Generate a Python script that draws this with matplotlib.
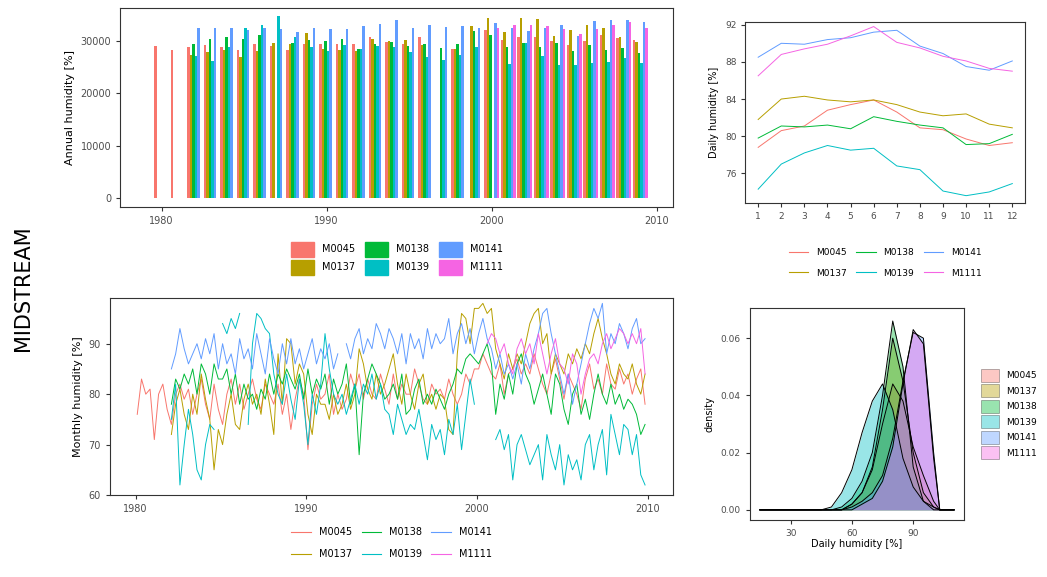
import numpy as np
import matplotlib.pyplot as plt
from matplotlib.patches import Patch
from matplotlib.lines import Line2D

nan = np.nan
stations = ["M0045", "M0137", "M0138", "M0139", "M0141", "M1111"]
colors = ["#F8766D", "#B79F00", "#00BA38", "#00BFC4", "#619CFF", "#F564E3"]

# ---- annual sums (per year, station order as above)
years = list(range(1980, 2010))
annual = [
    [29000, nan, nan, nan, nan, nan],
    [28300, nan, nan, nan, nan, nan],
    [28800, 27200, 29400, 27000, 32400, nan],
    [29100, 27900, 30400, 26200, 32400, nan],
    [28800, 28200, 30600, 28800, 32400, nan],
    [28200, 26900, 30300, 32500, 32100, nan],
    [29400, 28000, 31000, 33000, 32400, nan],
    [29000, 29600, nan, 34600, 32300, nan],
    [28300, 29400, 29600, 30600, 31700, nan],
    [29300, 31500, 30200, 28700, 32400, nan],
    [29300, 28500, 29900, 28100, 32300, nan],
    [29300, 28300, 30400, 29100, 32300, nan],
    [29400, 28000, 28400, 28400, 32800, nan],
    [30600, 30400, 29300, 28900, 33200, nan],
    [29800, 30000, 29800, 28800, 33900, nan],
    [29400, 30200, 29000, 27900, 32400, nan],
    [30600, 29200, 29400, 26900, 33000, nan],
    [nan, nan, 28600, 26400, 32600, nan],
    [28400, 28400, 29400, 27300, 32800, nan],
    [nan, 32800, 31800, 28700, 32400, nan],
    [32100, 34400, 31000, nan, 33300, 32400],
    [30200, 31700, 28800, 25600, 32400, 33000],
    [30700, 34300, 29600, 29600, 31800, 32900],
    [30700, 34100, 28800, 27000, 32500, 32700],
    [29900, 30900, 29600, 25300, 33000, 32300],
    [29200, 32100, 28000, 25300, 30900, 31200],
    [29900, 33000, 29100, 25800, 33800, 32300],
    [31000, 32500, 28300, 26000, 34000, 32900],
    [30500, 30700, 28600, 26700, 34000, 33600],
    [30200, 29800, 27700, 25700, 33500, 32500],
]

# ---- monthly series, 4 readings per year from 1980
monthly = {
    "M0045": [76, 83, 80, 81, 71, 80, 82, 77, 74, 80, 82, 79, 81, 76, 80, 83, 78, 75, 82, 77,
              74, 80, 83, 78, 82, 77, 80, 83, 79, 77, 82, 80, 78, 82, 76, 80, 73, 79, 83, 80,
              69, 78, 82, 79, 80, 84, 76, 80, 77, 79, 84, 81, 84, 79, 83, 80, 79, 84, 81, 78,
              84, 79, 82, 80, 80, 85, 82, 79, 78, 82, 80, 81, 79, 83, 80, 78, 80, 84, 82, 85,
              85, 88, 86, 84, 83, 86, 80, 84, 85, 87, 84, 86, 84, 88, 85, 82, 80, 84, 87, 83,
              79, 84, 82, 80, 77, 83, 86, 81, 83, 80, 86, 82, 81, 85, 82, 84, 80, 83, 85, 78],
    "M0137": [nan] * 8 +
             [72, 78, 81, 76, 73, 80, 76, 84, 79, 75, 65, 73, 70, 76, 80, 74, 73, 79, 82, 78,
              80, 76, 83, 78, 72, 88, 78, 91, 90, 82, 86, 84, 76, 72, 80, 78, 78, 75, 80, 76,
              78, 82, 77, 80, 89, 86, 81, 79, 84, 80, 82, 85, 88, 82, 78, 84, 80, 77, 82, 84,
              78, 80, 77, 80, 79, 73, 72, 88, 96, 95, 90, 97, 97, 98, 96, 97, 89, 86, 83, 88,
              85, 88, 86, 90, 94, 96, 97, 90, 92, 84, 88, 86, 84, 88, 86, 89, 87, 90, 88, 92,
              95, 91, 88, 84, 82, 86, 84, 83, 86, 82, 80, 84],
    "M0138": [nan] * 8 +
             [78, 83, 81, 84, 82, 85, 80, 86, 84, 80, 86, 83, 83, 85, 80, 84, 78, 82, 79, 80,
              77, 81, 79, 84, 80, 84, 82, 85, 83, 81, 84, 79, 85, 80, 83, 81, 84, 78, 83, 80,
              82, 86, 78, 82, 68, 80, 83, 86, 84, 82, 79, 80, 82, 79, 84, 76, 77, 81, 83, 78,
              80, 78, 81, 79, 77, 80, 82, 85, 84, 87, 88, 87, 86, 88, 90, 86, 76, 82, 79, 84,
              80, 86, 88, 84, 82, 78, 81, 84, 80, 76, 84, 82, 77, 74, 80, 82, 76, 79, 75, 80,
              84, 80, 78, 82, 78, 80, 77, 79, 78, 76, 72, 74],
    "M0139": [nan] * 8 +
             [75, 82, 62, 70, 77, 72, 65, 63, 70, 74, 73, nan, 94, 92, 95, 93, 96, nan, 74, 90,
              96, 95, 93, 92, 84, 80, 78, 84, 79, 75, 83, 78, 70, 80, 76, 82, 92, 85, 80, 78,
              80, 76, 79, 82, 78, 82, 80, 84, 79, 82, 77, 76, 72, 78, 75, 72, 74, 73, 77, 72,
              67, 74, 71, 73, 68, 75, 72, 78, 69, 76, 83, 78, nan, nan, nan, nan, 71, 73, 69, 72,
              63, 70, 72, 69, 66, 68, 70, 63, 72, 68, 65, 70, 62, 68, 65, 67, 63, 70, 72, 65,
              70, 73, 64, 76, 72, 68, 74, 73, 68, 72, 64, 62],
    "M0141": [nan] * 8 +
             [85, 88, 93, 89, 86, 88, 90, 87, 91, 88, 92, 85, 90, 86, 88, 84, 91, 87, 89, 85,
              92, 88, 84, 91, 87, 84, 90, 86, 91, 86, 89, 85, 88, 91, 86, 89, 87, 90, 85, 88,
              nan, 90, 87, 91, 93, 88, 91, 89, 94, 92, 89, 93, 91, 88, 92, 86, 92, 89, 91, 87,
              93, 89, 92, 90, 91, 95, 88, 92, 94, 90, 93, 88, 92, 95, 91, 89, 85, 88, 84, 86,
              83, 86, 82, 88, 85, 89, 92, 96, 97, 92, 88, 84, 80, 84, 78, 82, 86, 90, 94, 97,
              95, 98, 88, 92, 90, 94, 92, 89, 93, 95, 90, 91],
    "M1111": [nan] * 82 +
             [90, 92, 91, 88, 90, 86, 84, 89, 91, 88, 90, 86, 92, 88, 84, 88, 91, 86,
              85, 82, 88, 86, 80, 84, 87, 88, 86, 90, 92, 89, 91, 93, 92, 90, 92, 90, 93, 84],
}

# ---- mean by calendar month
months = list(range(1, 13))
by_month = {
    "M0045": [78.8, 80.6, 81.1, 82.8, 83.4, 83.9, 82.6, 80.9, 80.7, 79.7, 79.0, 79.3],
    "M0137": [81.8, 84.0, 84.3, 83.9, 83.7, 83.9, 83.4, 82.6, 82.2, 82.4, 81.3, 80.9],
    "M0138": [79.8, 81.1, 81.0, 81.2, 80.8, 82.1, 81.6, 81.2, 80.9, 79.1, 79.2, 80.2],
    "M0139": [74.3, 77.0, 78.2, 79.0, 78.5, 78.7, 76.8, 76.4, 74.1, 73.6, 74.0, 74.9],
    "M0141": [88.5, 90.0, 89.9, 90.4, 90.6, 91.2, 91.4, 89.7, 88.9, 87.5, 87.1, 88.1],
    "M1111": [86.5, 88.8, 89.4, 89.9, 90.8, 91.8, 90.1, 89.5, 88.6, 88.1, 87.3, 87.0],
}

# ---- density of daily humidity
dens_x = [15, 45, 50, 55, 60, 65, 70, 75, 80, 85, 90, 95, 100, 103, 110]
density = {
    "M0045": [0, 0, 0, 0, 0.002, 0.006, 0.014, 0.030, 0.044, 0.038, 0.022, 0.012, 0.003, 0, 0],
    "M0137": [0, 0, 0, 0, 0.002, 0.006, 0.015, 0.035, 0.060, 0.045, 0.020, 0.006, 0.001, 0, 0],
    "M0138": [0, 0, 0, 0.001, 0.004, 0.010, 0.020, 0.040, 0.066, 0.050, 0.015, 0.003, 0, 0, 0],
    "M0139": [0, 0, 0.001, 0.006, 0.014, 0.027, 0.038, 0.044, 0.035, 0.018, 0.008, 0.003, 0.001, 0, 0],
    "M0141": [0, 0, 0, 0, 0.001, 0.003, 0.006, 0.012, 0.025, 0.045, 0.062, 0.060, 0.020, 0, 0],
    "M1111": [0, 0, 0, 0, 0, 0.002, 0.004, 0.010, 0.022, 0.044, 0.063, 0.058, 0.018, 0, 0],
}

fig = plt.figure(figsize=(10.47, 5.77), dpi=100)
plt.rcParams['font.family'] = ['DejaVu Sans']


def style(ax):
    for s in ax.spines.values():
        s.set_color("#333333")
        s.set_linewidth(0.8)
    ax.tick_params(labelsize=7, colors="#333333", length=3)
    ax.tick_params(axis="both", labelcolor="#4d4d4d")


def line_legend(ax, y):
    handles = [Line2D([], [], color=c, lw=0.8) for c in colors]
    ax.legend(handles, stations, loc="upper center",
              bbox_to_anchor=(0.5, y), ncol=3, frameon=False, fontsize=7,
              handlelength=2, columnspacing=1.0, labelspacing=1.2)

# top-left: annual bars
ax1 = fig.add_axes([0.115, 0.641, 0.528, 0.345])
arr = np.array(annual, dtype=float)
w = 0.9 / 6
for j, (st, c) in enumerate(zip(stations, colors)):
    xs = np.array(years) - 0.45 + w * (j + 0.5)
    ax1.bar(xs, arr[:, j], width=w, color=c)
ax1.set_xlim(1977.5, 2011)
ax1.set_ylim(-1700, 36200)
ax1.set_xticks([1980, 1990, 2000, 2010])
ax1.set_yticks([0, 10000, 20000, 30000])
ax1.set_ylabel("Annual humidity [%]", fontsize=8)
style(ax1)
ax1.legend([Patch(color=c) for c in colors], stations, loc="upper center",
           bbox_to_anchor=(0.5, -0.13), ncol=3, frameon=False, fontsize=7,
           handlelength=2.4, handleheight=2.0, columnspacing=1.0, labelspacing=0.3)

# bottom-left: monthly
ax2 = fig.add_axes([0.105, 0.142, 0.538, 0.341])
for st, c in zip(stations, colors):
    v = monthly[st]
    t = 1980.1 + np.arange(len(v)) * 0.25
    ax2.plot(t, v, color=c, lw=0.7)
ax2.set_xlim(1978.5, 2011.5)
ax2.set_ylim(60, 99)
ax2.set_xticks([1980, 1990, 2000, 2010])
ax2.set_yticks([60, 70, 80, 90])
ax2.set_ylabel("Monthly humidity [%]", fontsize=8)
style(ax2)
line_legend(ax2, -0.12)

# top-right: calendar month means
ax3 = fig.add_axes([0.712, 0.648, 0.267, 0.314])
for st, c in zip(stations, colors):
    ax3.plot(months, by_month[st], color=c, lw=0.7)
ax3.set_xlim(0.45, 12.55)
ax3.set_ylim(72.8, 92.3)
ax3.set_xticks(months)
ax3.set_yticks([76, 80, 84, 88, 92])
ax3.set_ylabel("Daily humidity [%]", fontsize=7)
style(ax3)
ax3.tick_params(labelsize=6.5)
line_legend(ax3, -0.2)
for t in ax3.get_legend().get_texts():
    t.set_fontsize(6.5)

# bottom-right: density
ax4 = fig.add_axes([0.716, 0.099, 0.205, 0.367])
for st, c in zip(stations, colors):
    ax4.fill_between(dens_x, density[st], color=c, alpha=0.4, lw=0)
    ax4.plot(dens_x, density[st], color="black", lw=0.7)
ax4.set_xlim(10, 115)
ax4.set_ylim(-0.0035, 0.0705)
ax4.set_xticks([30, 60, 90])
ax4.set_yticks([0, 0.02, 0.04, 0.06])
ax4.set_yticklabels(["0.00", "0.02", "0.04", "0.06"])
ax4.set_xlabel("Daily humidity [%]", fontsize=7, labelpad=1)
ax4.set_ylabel("density", fontsize=7)
style(ax4)
ax4.tick_params(labelsize=6.5)
ax4.legend([Patch(facecolor=c, alpha=0.4, edgecolor="black", lw=0.5) for c in colors], stations,
           loc="center left", bbox_to_anchor=(1.04, 0.5), frameon=False, fontsize=6.5,
           handlelength=2.0, handleheight=1.8, labelspacing=0.3)

fig.text(0.022, 0.5, "MIDSTREAM", rotation=90, ha="center", va="center", fontsize=15)

fig.savefig("out.png", dpi=100)
